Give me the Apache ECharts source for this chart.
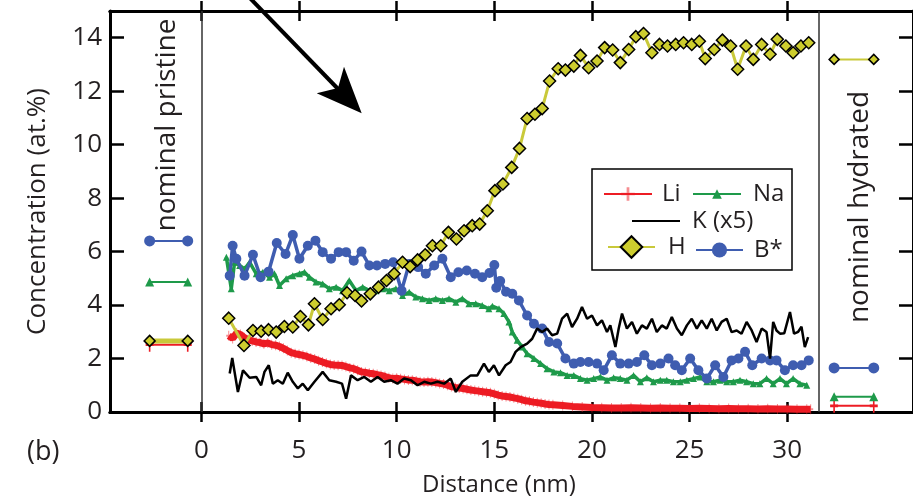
<!DOCTYPE html>
<html><head><meta charset="utf-8">
<script src="https://cdn.jsdelivr.net/npm/echarts@6/dist/echarts.min.js"></script>
<style>html,body{margin:0;padding:0;background:#fff}#c{width:913px;height:502px}</style>
</head><body><div id="c"></div>
<script>
// ---- tick labels ----
const xTicks = [0, 5, 10, 15, 20, 25, 30];
const yTicks = [0, 2, 4, 6, 8, 10, 12, 14];

// ---- profile data [distance nm, concentration at.%] ----
const liData = [[1.4,2.85],[1.6,2.75],[1.8,2.95],[2.0,2.9],[2.2,2.78],[2.4,2.7],[2.6,2.66],[2.8,2.62],[3.0,2.6],[3.2,2.55],[3.4,2.58],[3.6,2.52],[3.8,2.5],[4.0,2.45],[4.2,2.38],[4.4,2.3],[4.6,2.22],[4.8,2.18],[5.0,2.15],[5.2,2.12],[5.4,2.08],[5.6,2.02],[5.8,1.98],[6.0,1.92],[6.2,1.87],[6.4,1.82],[6.6,1.78],[6.8,1.76],[7.0,1.75],[7.2,1.74],[7.4,1.7],[7.6,1.65],[7.8,1.62],[8.0,1.56],[8.2,1.5],[8.4,1.48],[8.6,1.45],[8.8,1.43],[9.0,1.4],[9.2,1.37],[9.4,1.33],[9.6,1.28],[9.8,1.25],[10.0,1.26],[10.2,1.24],[10.4,1.22],[10.6,1.2],[10.8,1.19],[11.0,1.16],[11.2,1.13],[11.4,1.12],[11.6,1.13],[11.8,1.12],[12.0,1.1],[12.2,1.07],[12.4,1.05],[12.6,1.0],[12.8,0.95],[13.0,0.92],[13.2,0.9],[13.4,0.88],[13.6,0.85],[13.8,0.82],[14.0,0.8],[14.2,0.78],[14.4,0.76],[14.6,0.74],[14.8,0.72],[15.0,0.68],[15.2,0.63],[15.4,0.6],[15.6,0.58],[15.8,0.56],[16.0,0.53],[16.2,0.5],[16.4,0.46],[16.6,0.42],[16.8,0.4],[17.0,0.37],[17.2,0.35],[17.4,0.33],[17.6,0.3],[17.8,0.28],[18.0,0.27],[18.5,0.24],[19.0,0.21],[19.5,0.19],[20.0,0.17],[20.5,0.16],[21.0,0.15],[21.5,0.15],[22.0,0.16],[22.5,0.15],[23.0,0.14],[23.5,0.15],[24.0,0.14],[24.5,0.14],[25.0,0.13],[25.5,0.14],[26.0,0.13],[26.5,0.12],[27.0,0.13],[27.5,0.12],[28.0,0.12],[28.5,0.11],[29.0,0.12],[29.5,0.11],[30.0,0.11],[30.5,0.1],[31.0,0.1],[31.2,0.1]];

const naData = [[1.28,5.79],[1.53,4.61],[1.7,5.6],[1.96,5.48],[2.21,5.35],[2.47,5.6],[2.81,5.17],[3.15,5.23],[3.49,5.04],[3.74,5.17],[4.0,4.73],[4.34,4.98],[4.68,5.1],[5.02,5.17],[5.28,5.23],[5.53,5.04],[5.87,4.86],[6.21,4.79],[6.55,4.61],[6.9,4.67],[7.23,4.54],[7.57,4.92],[7.92,4.54],[8.26,4.67],[8.6,4.54],[8.94,4.54],[9.28,4.61],[9.62,4.54],[9.96,4.61],[10.3,4.36],[10.64,4.48],[10.98,4.3],[11.32,4.24],[11.66,4.17],[12.0,4.24],[12.34,4.17],[12.68,4.24],[13.03,4.11],[13.36,4.24],[13.7,4.05],[14.05,4.05],[14.38,3.98],[14.72,3.86],[14.9,3.96],[15.24,3.86],[15.49,3.68],[15.75,3.37],[15.92,2.99],[16.17,2.68],[16.43,2.43],[16.68,2.18],[17.03,2.0],[17.37,1.81],[17.7,1.62],[18.05,1.5],[18.39,1.47],[18.73,1.37],[19.07,1.37],[19.41,1.25],[19.75,1.19],[20.09,1.25],[20.43,1.31],[20.77,1.19],[21.11,1.28],[21.45,1.25],[21.79,1.19],[22.13,1.37],[22.48,1.13],[22.81,1.28],[23.15,1.13],[23.5,1.19],[23.83,1.19],[24.17,1.13],[24.52,1.13],[24.86,1.19],[25.2,1.25],[25.54,1.31],[25.88,1.13],[26.22,1.13],[26.56,1.19],[26.9,1.13],[27.24,1.13],[27.58,1.19],[27.92,1.13],[28.26,1.06],[28.6,1.06],[28.94,1.25],[29.28,1.06],[29.63,1.25],[29.96,1.06],[30.3,1.25],[30.65,1.06],[31.0,1.0]];

const kData = [[1.45,1.44],[1.58,2.02],[1.87,0.75],[2.13,1.56],[2.47,1.28],[2.81,1.31],[3.06,1.0],[3.23,1.5],[3.45,1.75],[3.66,1.06],[3.91,1.19],[4.17,1.06],[4.42,1.47],[4.68,1.13],[4.94,0.88],[5.19,1.06],[5.45,0.81],[5.79,1.13],[6.21,1.5],[6.55,1.19],[6.9,1.13],[7.2,1.06],[7.41,0.5],[7.66,1.37],[8.0,1.19],[8.34,1.31],[8.68,1.13],[9.02,1.31],[9.36,1.13],[9.7,1.19],[10.04,1.06],[10.38,1.25],[10.73,1.19],[11.07,1.0],[11.41,1.13],[11.75,1.06],[12.09,1.13],[12.43,1.06],[12.77,1.25],[13.03,0.75],[13.36,1.13],[13.79,1.37],[14.13,1.37],[14.47,1.81],[14.72,1.5],[14.98,1.75],[15.24,1.37],[15.58,1.75],[15.83,1.87],[16.09,2.25],[16.35,2.43],[16.68,2.56],[16.94,2.74],[17.19,3.12],[17.45,2.99],[17.7,3.12],[17.96,2.87],[18.22,2.93],[18.47,3.49],[18.73,3.68],[18.98,3.18],[19.24,3.49],[19.49,3.93],[19.75,3.49],[20.0,3.61],[20.26,3.24],[20.51,3.43],[20.77,2.99],[20.94,3.24],[21.2,2.43],[21.37,3.12],[21.54,3.68],[21.79,3.12],[22.05,3.37],[22.3,2.93],[22.56,3.24],[22.81,3.12],[23.07,3.49],[23.32,2.99],[23.58,3.24],[23.83,3.12],[24.09,3.55],[24.35,3.12],[24.6,2.87],[24.86,3.24],[25.11,3.49],[25.37,3.12],[25.62,3.43],[25.88,3.12],[26.13,3.49],[26.39,3.05],[26.64,3.37],[26.9,3.49],[27.15,2.99],[27.41,3.05],[27.66,2.93],[27.92,3.37],[28.18,3.05],[28.43,2.62],[28.69,3.12],[28.94,2.99],[29.12,2.0],[29.28,3.37],[29.45,3.05],[29.63,2.93],[29.85,2.95],[30.14,3.74],[30.35,2.93],[30.56,3.0],[30.73,3.19],[30.9,2.43],[31.07,2.8]];

const hData = [[1.40,3.51],[2.18,2.49],[2.64,3.05],[3.06,3.02],[3.44,3.08],[3.83,2.99],[4.25,3.20],[4.68,3.18],[5.07,3.57],[5.48,3.26],[5.79,4.05],[6.21,3.46],[6.64,3.86],[7.06,4.01],[7.46,4.46],[7.87,4.36],[8.2,4.15],[8.65,4.42],[9.07,4.67],[9.48,4.92],[9.87,5.17],[10.3,5.60],[10.69,5.44],[11.07,5.69],[11.46,5.88],[11.83,6.22],[12.26,6.22],[12.65,6.72],[13.06,6.47],[13.45,6.78],[13.87,6.97],[14.25,7.03],[14.64,7.53],[15.03,8.28],[15.44,8.53],[15.89,9.15],[16.29,9.86],[16.68,10.98],[17.08,11.14],[17.45,11.35],[17.83,12.38],[18.27,12.84],[18.64,12.79],[19.07,12.94],[19.41,13.34],[19.83,12.88],[20.26,13.13],[20.65,13.63],[21.06,13.54],[21.45,13.07],[21.88,13.56],[22.25,14.04],[22.64,14.16],[23.07,13.44],[23.46,13.75],[23.87,13.69],[24.29,13.75],[24.69,13.81],[25.11,13.75],[25.50,13.87],[25.80,13.22],[26.26,13.56],[26.68,13.91],[27.1,13.69],[27.46,12.82],[27.89,13.69],[28.26,13.19],[28.69,13.75],[29.12,13.38],[29.49,13.94],[29.93,13.69],[30.3,13.44],[30.7,13.69],[31.1,13.81]];

const bData = [[1.45,5.10],[1.6,6.22],[1.79,5.73],[2.21,5.10],[2.64,5.88],[3.03,5.04],[3.44,5.25],[3.86,6.32],[4.31,5.91],[4.68,6.62],[5.02,5.73],[5.45,6.22],[5.84,6.41],[6.21,5.98],[6.64,5.73],[7.03,5.98],[7.41,5.98],[7.8,5.66],[8.2,6.0],[8.6,5.48],[8.99,5.48],[9.41,5.54],[9.82,5.60],[10.25,4.54],[10.64,5.54],[11.1,5.42],[11.49,5.17],[11.92,5.48],[12.34,5.73],[12.77,5.04],[13.16,5.23],[13.59,5.29],[14.01,5.17],[14.38,5.04],[14.75,5.2],[15.0,5.5],[15.1,4.65],[15.3,4.9],[15.6,4.5],[15.92,4.42],[16.26,4.17],[16.68,3.61],[17.03,3.30],[17.45,3.12],[17.8,2.62],[18.22,2.56],[18.64,2.0],[19.07,1.81],[19.41,1.87],[19.83,1.87],[20.26,1.81],[20.6,1.56],[21.02,2.12],[21.45,1.81],[21.88,1.81],[22.3,1.87],[22.68,2.12],[23.07,1.75],[23.5,1.81],[23.92,2.0],[24.26,1.75],[24.6,1.56],[25.03,2.0],[25.45,1.56],[25.88,1.25],[26.31,1.75],[26.73,1.31],[27.15,1.93],[27.5,2.0],[27.84,2.25],[28.21,1.75],[28.69,2.0],[29.12,1.93],[29.45,1.93],[29.88,1.56],[30.3,1.75],[30.73,1.75],[31.1,1.93]];

// ---- nominal compositions (pristine, hydrated) ----
const nominalPristineX = [-2.65, -0.7];
const nominalHydratedX = [32.4, 34.43];
const nomLi = [2.52, 0.23];
const nomNa = [4.86, 0.57];
const nomH = [2.66, 13.19];
const nomB = [6.4, 1.65];
const boundaryX = [0, 31.62];

const C = {li:'#ED1C24', na:'#1E9A4A', k:'#000000', hLine:'#C9C93A', hFill:'#CDCD2E', b:'#3F5DB0', text:'#231F20'};
const FONT = 'Open Sans';
const W = 500;
const plusPath = 'path://M4,0H6V4H10V6H6V10H4V6H0V4H4Z';

function pair(xs, v, idx){ return xs.map(x => [x, v[idx]]); }

const xBase = (pos, inside, labels) => ({
  type:'value', position:pos, min:-4.68, max:36.44,
  splitLine:{show:false},
  axisLine:{show:true, onZero:false, lineStyle:{color:'#000', width:3}},
  axisTick:{show:true, inside:inside, length:10, lineStyle:{color:'#000', width:2.5}, customValues:xTicks},
  axisLabel: labels ? {show:true, customValues:xTicks, fontSize:26, fontWeight:W, fontFamily:FONT, color:C.text, margin:26} : {show:false}
});

const legText = {fontSize:24, fontWeight:W, fontFamily:FONT, color:C.text};
const option = {
  animation:false,
  backgroundColor:'#fff',
  grid:{left:110, top:11, right:-2, bottom:88.5, containLabel:false},
  xAxis:[
    Object.assign(xBase('bottom', false, true), {name:'Distance (nm)', nameLocation:'middle', nameGap:61, nameTextStyle:{fontSize:24, fontWeight:W, fontFamily:FONT, color:C.text, padding:[0,25,0,0]}}),
    xBase('bottom', true, false),
    xBase('top', false, false),
    xBase('top', true, false)
  ],
  yAxis:[
    {type:'value', position:'left', min:0, max:15,
     splitLine:{show:false},
     axisLine:{show:true, onZero:false, lineStyle:{color:'#000', width:3}},
     axisTick:{show:true, inside:true, length:14, lineStyle:{color:'#000', width:2.5}, customValues:yTicks},
     axisLabel:{show:true, customValues:yTicks, fontSize:26, fontWeight:W, fontFamily:FONT, color:C.text, margin:8},
     name:'Concentration (at.%)', nameLocation:'middle', nameRotate:90, nameGap:59,
     nameTextStyle:{fontSize:26, fontWeight:W, fontFamily:FONT, color:C.text, padding:[0,0,0,0]}},
    {type:'value', position:'right', min:0, max:15,
     splitLine:{show:false},
     axisLine:{show:true, onZero:false, lineStyle:{color:'#000', width:3}},
     axisTick:{show:true, inside:true, length:14, lineStyle:{color:'#000', width:2.5}, customValues:yTicks},
     axisLabel:{show:false}}
  ],
  legend:[
    {data:['Li'], left:603, top:182, padding:0, itemWidth:48, itemHeight:17, textStyle:Object.assign({padding:[0,0,0,5]}, legText)},
    {data:['Na'], left:692, top:182, padding:0, itemWidth:48, itemHeight:12, textStyle:Object.assign({padding:[0,0,0,7]}, legText)},
    {data:['K (x5)'], left:631, top:209, padding:0, itemWidth:48, itemHeight:12, itemStyle:{opacity:0}, textStyle:Object.assign({padding:[0,0,0,7]}, legText)},
    {data:['H'], left:607, top:235, padding:0, itemWidth:47, itemHeight:27, textStyle:Object.assign({padding:[0,0,0,8]}, legText)},
    {data:['B*'], left:695, top:238, padding:0, itemWidth:47, itemHeight:19, textStyle:Object.assign({padding:[0,0,0,6]}, legText)}
  ],
  series:[
    {name:'Li', type:'line', data:liData, xAxisIndex:0, yAxisIndex:0, z:2,
     symbol:plusPath, symbolSize:[5,10], itemStyle:{color:C.li, opacity:0.5},
     lineStyle:{color:C.li, width:7},
     markLine:{silent:true, symbol:['none','none'], label:{show:false},
       lineStyle:{color:'#333', width:1.5, type:'solid'},
       data:boundaryX.map(v => ({xAxis:v}))}},
    {name:'Na', type:'line', data:naData, z:3, symbol:'triangle', symbolSize:7,
     itemStyle:{color:C.na}, lineStyle:{color:C.na, width:3.5}},
    {name:'B*', type:'line', data:bData, z:4, symbol:'circle', symbolSize:10,
     itemStyle:{color:C.b}, lineStyle:{color:C.b, width:3.5}},
    {name:'K (x5)', type:'line', data:kData, z:5, symbol:'none',
     itemStyle:{color:C.k}, lineStyle:{color:C.k, width:2.5}},
    {name:'H', type:'line', data:hData, z:6, symbol:'diamond', symbolSize:12,
     itemStyle:{color:C.hFill, borderColor:'#000', borderWidth:1.5}, lineStyle:{color:C.hLine, width:3}},
    // nominal pristine
    {name:'Li', type:'line', data:pair(nominalPristineX, nomLi, 0), symbol:plusPath, symbolSize:[8,14], itemStyle:{color:C.li}, lineStyle:{color:C.li, width:2}},
    {name:'Na', type:'line', data:pair(nominalPristineX, nomNa, 0), symbol:'triangle', symbolSize:9, itemStyle:{color:C.na}, lineStyle:{color:C.na, width:2}},
    {name:'H', type:'line', data:pair(nominalPristineX, nomH, 0), symbol:'diamond', symbolSize:11, itemStyle:{color:C.hFill, borderColor:'#000', borderWidth:1.5}, lineStyle:{color:C.hLine, width:5}},
    {name:'B*', type:'line', data:pair(nominalPristineX, nomB, 0), symbol:'circle', symbolSize:11, itemStyle:{color:C.b}, lineStyle:{color:C.b, width:2}},
    // nominal hydrated
    {name:'Li', type:'line', data:pair(nominalHydratedX, nomLi, 1), symbol:plusPath, symbolSize:[8,14], itemStyle:{color:C.li}, lineStyle:{color:C.li, width:2}},
    {name:'Na', type:'line', data:pair(nominalHydratedX, nomNa, 1), symbol:'triangle', symbolSize:9, itemStyle:{color:C.na}, lineStyle:{color:C.na, width:2}},
    {name:'H', type:'line', data:pair(nominalHydratedX, nomH, 1), symbol:'diamond', symbolSize:10, itemStyle:{color:C.hFill, borderColor:'#000', borderWidth:1.5}, lineStyle:{color:C.hLine, width:2}},
    {name:'B*', type:'line', data:pair(nominalHydratedX, nomB, 1), symbol:'circle', symbolSize:11, itemStyle:{color:C.b}, lineStyle:{color:C.b, width:2}}
  ],
  graphic:[
    {type:'rect', shape:{x:592, y:169, width:200, height:101}, style:{fill:null, stroke:'#000', lineWidth:1.5}, z:1, silent:true},
    {type:'text', x:167, y:125, rotation:Math.PI/2, style:{text:'nominal pristine', font:'500 28px "Open Sans"', fill:C.text, align:'center', verticalAlign:'middle'}},
    {type:'text', x:860, y:207, rotation:Math.PI/2, style:{text:'nominal hydrated', font:'500 28px "Open Sans"', fill:C.text, align:'center', verticalAlign:'middle'}},
    {type:'text', x:27, y:452, style:{text:'(b)', font:'500 27px "Open Sans"', fill:C.text, align:'left', verticalAlign:'middle'}},
    {type:'polyline', shape:{points:[[246,-6],[341,92]]}, style:{stroke:'#000', lineWidth:4, fill:null}, z:100},
    {type:'polygon', shape:{points:[[361.7,113.3],[316.7,93.3],[338,88],[344,66.7]]}, style:{fill:'#000'}, z:100}
  ]
};
const chart = echarts.init(document.getElementById('c'), null, {renderer:'canvas'});
chart.setOption(option);
</script></body></html>
